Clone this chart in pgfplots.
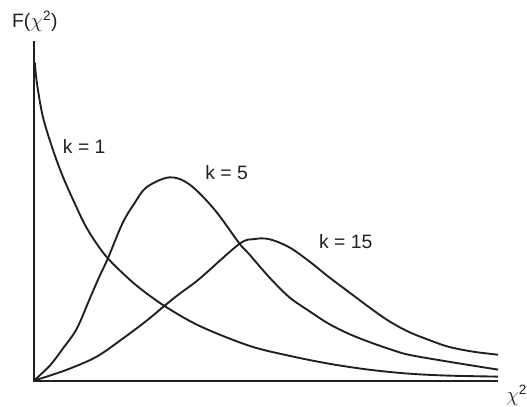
\documentclass[border=0pt]{standalone}
\usepackage{fontspec}
\setmainfont{Liberation Sans}
\usepackage{pgfplots}
\pgfplotsset{compat=1.18}
\definecolor{ink}{RGB}{35,31,32}

\begin{document}
\begin{tikzpicture}
\begin{axis}[
    width=466bp, height=341bp,
    scale only axis,
    xmin=0, xmax=466,
    ymin=0, ymax=341,
    axis lines=none,
    xtick=\empty, ytick=\empty,
    clip=false,
    curve/.style={draw=ink, line width=1.9pt, smooth, tension=0.55, mark=none},
]

% k = 1
\addplot[curve] coordinates {
    (1,319)(3,299)(9,265)(19,232)(29,205)(40,180)(52,155)(64,136)(74,123)
    (90,107)(106,93)(131,75)(166,55)(216,35)(256,25)(296,17)(336,11)
    (376,7)(416,5)(466,4)
};
% k = 5
\addplot[curve] coordinates {
    (0,0)(16,15)(29,32)(43,52)(56,82)(66,105)(74,122)(89,158)(101,178)
    (113,194)(136,204)(156,197)(181,172)(206,138)(216,127)(236,104)
    (256,84)(276,70)(296,57)(316,47)(336,39)(356,32)(376,26)(416,19)(466,11)
};
% k = 15
\addplot[curve] coordinates {
    (0,0)(16,5)(36,12)(63,24)(89,42)(113,60)(131,75)(146,87)(166,102)
    (206,137)(221,142)(236,142)(256,134)(276,120)(296,104)(316,89)
    (336,74)(356,60)(376,49)(396,41)(416,34)(441,29)(466,26)
};

% axes
\draw[ink, line width=2pt] (axis cs:0,341) -- (axis cs:0,0) -- (axis cs:466,0);

\begin{scope}[every node/.style={font=\fontsize{19.5}{23}\selectfont, text=ink, inner sep=0pt}]
\node[anchor=base west] at (axis cs:-22,354) {F($\chi$\textsuperscript{2})};
\node[anchor=base west] at (axis cs:474,-21) {$\chi$\textsuperscript{2}};
\node[anchor=base west] at (axis cs:29,228) {k = 1};
\node[anchor=base west] at (axis cs:172,202) {k = 5};
\node[anchor=base west] at (axis cs:286,133) {k = 15};
\end{scope}

\path (axis cs:-34,-26) rectangle (axis cs:493,382);
\end{axis}
\end{tikzpicture}
\end{document}
